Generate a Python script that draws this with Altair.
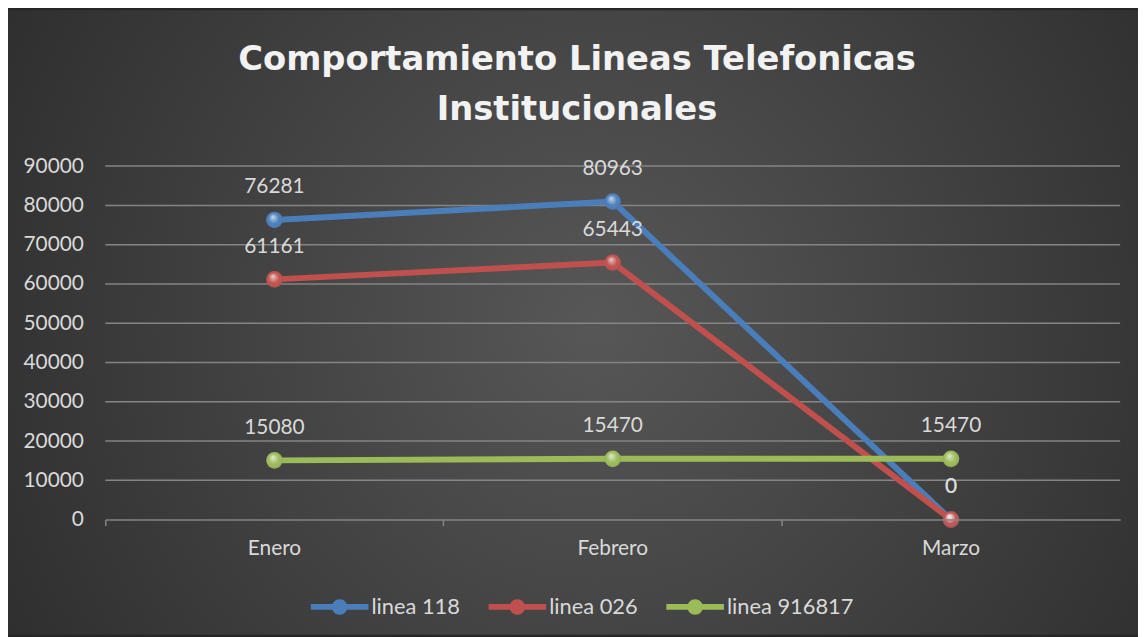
import altair as alt
import pandas as pd

months = ["Enero", "Febrero", "Marzo"]
series_names = ["linea 118", "linea 026", "linea 916817"]
linea_118 = [76281, 80963, 0]
linea_026 = [61161, 65443, 0]
linea_916817 = [15080, 15470, 15470]
colors = ["#4a7ebb", "#c0504d", "#9bbb59"]
y_ticks = [0, 10000, 20000, 30000, 40000, 50000, 60000, 70000, 80000, 90000]

rows = []
for name, vals in zip(series_names, [linea_118, linea_026, linea_916817]):
    for m, v in zip(months, vals):
        rows.append({"mes": m, "serie": name, "valor": v})
df = pd.DataFrame(rows)
grid_df = pd.DataFrame({"valor": y_ticks[1:]})

W, H = 1022, 356
PL, PT, PR, PB = 98, 157, 18, 116
FONT = "Lato"
TXT = "#d9d9d9"
GRID = "#858585"

x_scale = alt.Scale(type="band", paddingInner=0, paddingOuter=0)
y_scale = alt.Scale(domain=[0, 90000], nice=False)

x_axis = alt.Axis(
    title=None, labelAngle=0, bandPosition=0,
    labelFont=FONT, labelFontSize=21, labelColor=TXT, labelPadding=12,
    domainColor=GRID, domainWidth=1.5, tickColor=GRID, tickWidth=1.5, tickSize=6,
    zindex=1,
)
y_axis = alt.Axis(
    title=None, values=y_ticks, format="d", domain=False, ticks=False,
    labelFont=FONT, labelFontSize=21, labelColor=TXT, labelPadding=22,
    grid=False, zindex=1,
)
x_enc = alt.X("mes:N", sort=months, scale=x_scale, axis=x_axis)
y_enc = alt.Y("valor:Q", scale=y_scale, axis=y_axis)

color_scale = alt.Scale(domain=series_names, range=colors)
legend_path = (
    "M -1 -0.1 L 1 -0.1 L 1 0.1 L -1 0.1 Z "
    "M -0.27 0 A 0.27 0.27 0 1 1 0.27 0 A 0.27 0.27 0 1 1 -0.27 0 Z"
)
legend = alt.Legend(
    title=None, orient="none", direction="horizontal",
    legendX=207, legendY=415,
    symbolType=legend_path, symbolSize=3364, symbolOpacity=1,
    symbolStrokeWidth=0, symbolFillColor="#888888",
    labelFont=FONT, labelFontSize=22, labelColor=TXT,
    labelOffset=3, columnPadding=28, zindex=1,
)
color_enc = alt.Color("serie:N", scale=color_scale, legend=legend)

bg = alt.Chart(alt.Data(values=[{}])).mark_rect(
    fill=alt.Gradient(
        gradient="radial",
        stops=[alt.GradientStop(color="#575757", offset=0),
               alt.GradientStop(color="#262626", offset=1)],
        x1=0.52, y1=0.5, r1=0, x2=0.52, y2=0.5, r2=0.72,
    )
).encode(
    x=alt.value(-PL), x2=alt.value(W + PR), y=alt.value(-PT), y2=alt.value(H + PB)
)

grid = alt.Chart(grid_df).mark_rule(color=GRID, strokeWidth=1.5).encode(
    y=y_enc, x=alt.value(0), x2=alt.value(W)
)

base = alt.Chart(df).encode(x=x_enc, y=y_enc)

lines = base.mark_line(strokeWidth=6).encode(color=color_enc)

points = base.mark_circle(size=280, opacity=1).encode(color=color_enc)

shine = base.mark_circle(
    size=280,
    fill=alt.Gradient(
        gradient="radial",
        stops=[alt.GradientStop(color="rgba(255,255,255,0.7)", offset=0),
               alt.GradientStop(color="rgba(255,255,255,0)", offset=0.6),
               alt.GradientStop(color="rgba(0,0,0,0.2)", offset=1)],
        x1=0.4, y1=0.3, r1=0, x2=0.5, y2=0.5, r2=0.55,
    ),
    opacity=1,
)

labels = base.mark_text(dy=-33, font=FONT, fontSize=21, color=TXT).encode(
    text=alt.Text("valor:Q", format="d")
)

chart = alt.layer(bg, grid, lines, points, shine, labels).properties(
    width=W,
    height=H,
    padding={"left": PL, "top": PT, "right": PR, "bottom": PB},
    autosize=alt.AutoSizeParams(type="none"),
    title=alt.TitleParams(
        text=["Comportamiento Lineas Telefonicas", "Institucionales"],
        font="DejaVu Sans", fontSize=34, fontWeight="bold", color="#f2f2f2",
        anchor="middle", frame="group", dx=-36, offset=0, dy=118, lineHeight=51,
        limit=0, zindex=1,
    ),
).configure_view(stroke=None).configure(background="#262626")

chart.save("out.html", embed_options={"renderer": "svg", "actions": False})
